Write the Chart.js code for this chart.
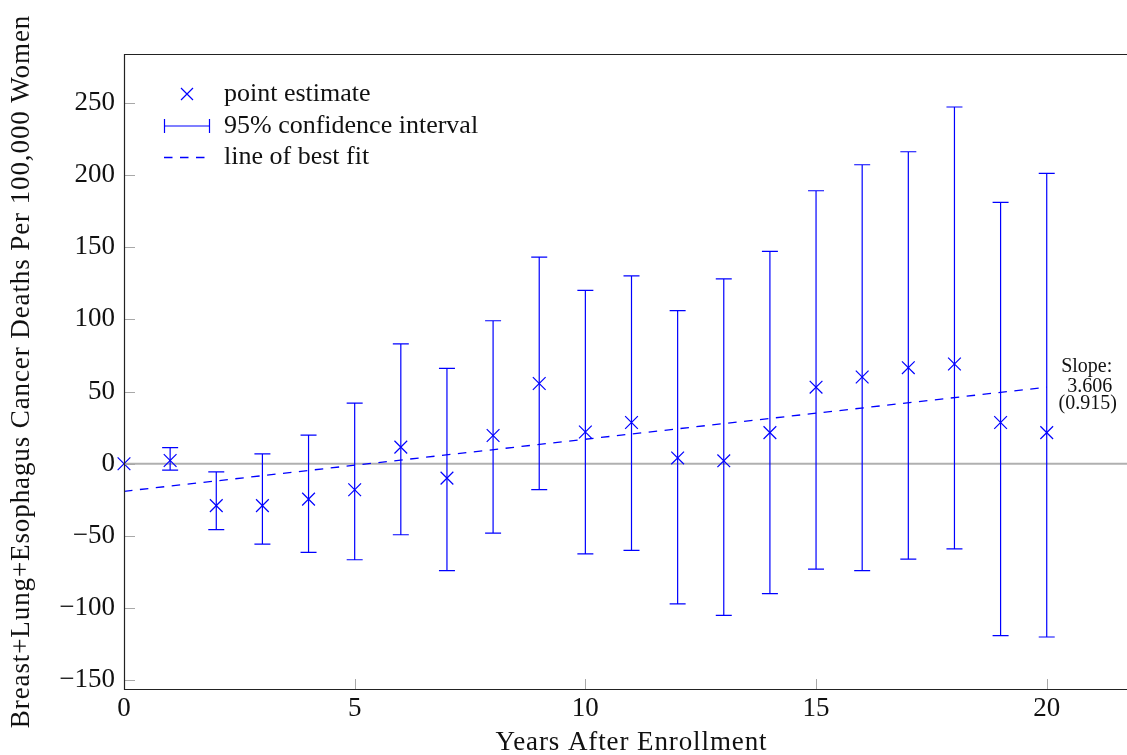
<!DOCTYPE html>
<html>
<head>
<meta charset="utf-8">
<script src="https://cdn.jsdelivr.net/npm/chart.js@4.4.0/dist/chart.umd.min.js"></script>
<style>
  html, body { margin: 0; padding: 0; background: #fff; overflow: hidden; }
  #wrap { width: 1140px; height: 755px; }
</style>
</head>
<body>
<div id="wrap"><canvas id="c" width="1140" height="755"></canvas></div>
<script>
// ---- data ----
const years = [0, 1, 2, 3, 4, 5, 6, 7, 8, 9, 10, 11, 12, 13, 14, 15, 16, 17, 18, 19, 20];
const estimates = [0, 2.2, -29, -29, -24.5, -18, 11.5, -10, 19.5, 55.5, 22, 28.5, 4, 2, 21.5, 53, 60, 66.5, 69, 28.5, 21.5];
const ciLow  = [0, -4.4, -45.7, -55.7, -61.4, -66.5, -49.2, -74, -48, -18, -62.5, -60, -97, -105, -90, -73, -74, -66, -59, -119, -120];
const ciHigh = [0, 11.2, -5.6, 6.8, 19.8, 42, 83, 66, 99, 143, 120, 130, 106, 128, 147, 189, 207, 216, 247, 181, 201];
const fitX = [0, 20];
const fitY = [-19.1, 53.0];
const xTicks = [0, 5, 10, 15, 20];
const yTicks = [-150, -100, -50, 0, 50, 100, 150, 200, 250];
const legendLabels = ['point estimate', '95% confidence interval', 'line of best fit'];
const slopeText = ['Slope:', '3.606', '(0.915)'];
const xTitle = 'Years After Enrollment';
const yTitle = 'Breast+Lung+Esophagus Cancer Deaths Per 100,000 Women';

const BLUE = '#0000ff';
const FONT = "'Liberation Serif', 'DejaVu Serif', serif";

const errorBars = {
  id: 'errorBars',
  afterDatasetsDraw(chart) {
    const ctx = chart.ctx, xs = chart.scales.x, ys = chart.scales.y;
    ctx.save();
    ctx.strokeStyle = BLUE;
    ctx.lineWidth = 1.2;
    years.forEach((yr, i) => {
      if (ciLow[i] === ciHigh[i]) return;
      const px = xs.getPixelForValue(yr);
      const pLo = ys.getPixelForValue(ciLow[i]);
      const pHi = ys.getPixelForValue(ciHigh[i]);
      ctx.beginPath();
      ctx.moveTo(px, pLo); ctx.lineTo(px, pHi);
      ctx.moveTo(px - 8, pLo); ctx.lineTo(px + 8, pLo);
      ctx.moveTo(px - 8, pHi); ctx.lineTo(px + 8, pHi);
      ctx.stroke();
    });
    ctx.restore();
  }
};

const frame = {
  id: 'frame',
  afterDraw(chart) {
    const ctx = chart.ctx, a = chart.chartArea, xs = chart.scales.x, ys = chart.scales.y;
    ctx.save();
    // inward ticks
    ctx.strokeStyle = '#a8a8a8';
    ctx.lineWidth = 1;
    ctx.beginPath();
    xTicks.forEach(v => {
      const px = Math.round(xs.getPixelForValue(v)) + 0.5;
      ctx.moveTo(px, a.bottom); ctx.lineTo(px, a.bottom - 10);
    });
    yTicks.forEach(v => {
      const py = Math.round(ys.getPixelForValue(v)) + 0.5;
      ctx.moveTo(a.left, py); ctx.lineTo(a.left + 11, py);
    });
    ctx.stroke();
    // frame
    ctx.strokeStyle = '#222';
    ctx.lineWidth = 1.2;
    ctx.beginPath();
    ctx.moveTo(a.right, a.top + 0.5);
    ctx.lineTo(a.left + 0.5, a.top + 0.5);
    ctx.lineTo(a.left + 0.5, a.bottom + 0.5);
    ctx.lineTo(a.right, a.bottom + 0.5);
    ctx.lineTo(a.right, a.top + 0.5);
    ctx.stroke();

    // legend
    ctx.fillStyle = '#111';
    ctx.font = '26px ' + FONT;
    ctx.textBaseline = 'middle';
    ctx.textAlign = 'left';
    const rows = [94, 126, 157];
    rows.forEach((ry, i) => ctx.fillText(legendLabels[i], 224, ry));
    ctx.strokeStyle = BLUE;
    ctx.lineWidth = 1.2;
    // marker
    ctx.beginPath();
    ctx.moveTo(181, 88); ctx.lineTo(193, 100);
    ctx.moveTo(193, 88); ctx.lineTo(181, 100);
    ctx.stroke();
    // error bar symbol
    ctx.beginPath();
    ctx.moveTo(164.5, 119); ctx.lineTo(164.5, 133);
    ctx.moveTo(209.5, 119); ctx.lineTo(209.5, 133);
    ctx.moveTo(164.5, 126); ctx.lineTo(209.5, 126);
    ctx.stroke();
    // dashed symbol
    ctx.lineWidth = 1.4;
    ctx.setLineDash([8.5, 7.5]);
    ctx.beginPath();
    ctx.moveTo(164, 157.5); ctx.lineTo(206, 157.5);
    ctx.stroke();
    ctx.setLineDash([]);

    // slope annotation
    ctx.fillStyle = '#111';
    ctx.font = '20px ' + FONT;
    ctx.textAlign = 'center';
    const ax = xs.getPixelForValue(fitX[1]) + 41;
    const ay = ys.getPixelForValue(fitY[1]);
    ctx.fillText(slopeText[0], ax - 1, ay - 20);
    ctx.fillText(slopeText[1], ax + 2, ay);
    ctx.fillText(slopeText[2], ax, ay + 17);

    // axis titles
    ctx.font = '27px ' + FONT;
    ctx.letterSpacing = '0.9px';
    ctx.textAlign = 'center';
    ctx.fillText(xTitle, (a.left + a.right) / 2, 743);
    ctx.save();
    ctx.translate(22, (a.top + a.bottom) / 2);
    ctx.rotate(-Math.PI / 2);
    ctx.fillText(yTitle, 0, 0);
    ctx.restore();
    ctx.letterSpacing = '0px';
    ctx.restore();
  }
};

new Chart(document.getElementById('c'), {
  type: 'scatter',
  data: {
    datasets: [
      {
        label: 'zero',
        type: 'line',
        data: [{x: 0, y: 0}, {x: 22, y: 0}],
        borderColor: '#b0b0b0',
        borderWidth: 2,
        pointRadius: 0,
        order: 3
      },
      {
        label: legendLabels[2],
        type: 'line',
        data: fitX.map((x, i) => ({x, y: fitY[i]})),
        borderColor: BLUE,
        borderWidth: 1.3,
        borderDash: [8.5, 7.5],
        pointRadius: 0,
        order: 2
      },
      {
        label: legendLabels[0],
        data: years.map((x, i) => ({x, y: estimates[i]})),
        pointStyle: 'crossRot',
        pointRadius: 9,
        borderColor: BLUE,
        backgroundColor: BLUE,
        pointBorderWidth: 1.2,
        clip: false,
        order: 1
      }
    ]
  },
  options: {
    responsive: false,
    animation: false,
    devicePixelRatio: 1,
    layout: { autoPadding: false, padding: { top: 54, left: 0, right: 1, bottom: 0 } },
    plugins: { legend: { display: false }, tooltip: { enabled: false } },
    scales: {
      x: {
        type: 'linear', min: 0, max: 22,
        grid: { display: false, drawTicks: false },
        border: { display: false },
        afterBuildTicks(s) { s.ticks = xTicks.map(v => ({value: v})); },
        afterFit(s) { s.height = 66; s.paddingLeft = 0; s.paddingRight = 0; },
        ticks: { color: '#111', padding: 4, font: { family: FONT, size: 27 }, maxRotation: 0 }
      },
      y: {
        type: 'linear', min: -156, max: 283.7,
        grid: { display: false, drawTicks: false },
        border: { display: false },
        afterBuildTicks(s) { s.ticks = yTicks.map(v => ({value: v})); },
        afterFit(s) { s.width = 124; s.paddingTop = 0; s.paddingBottom = 0; },
        ticks: {
          color: '#111', padding: 9, font: { family: FONT, size: 27 },
          callback: v => (v < 0 ? '\u2212' + Math.abs(v) : String(v))
        }
      }
    }
  },
  plugins: [errorBars, frame]
});
</script>
</body>
</html>
